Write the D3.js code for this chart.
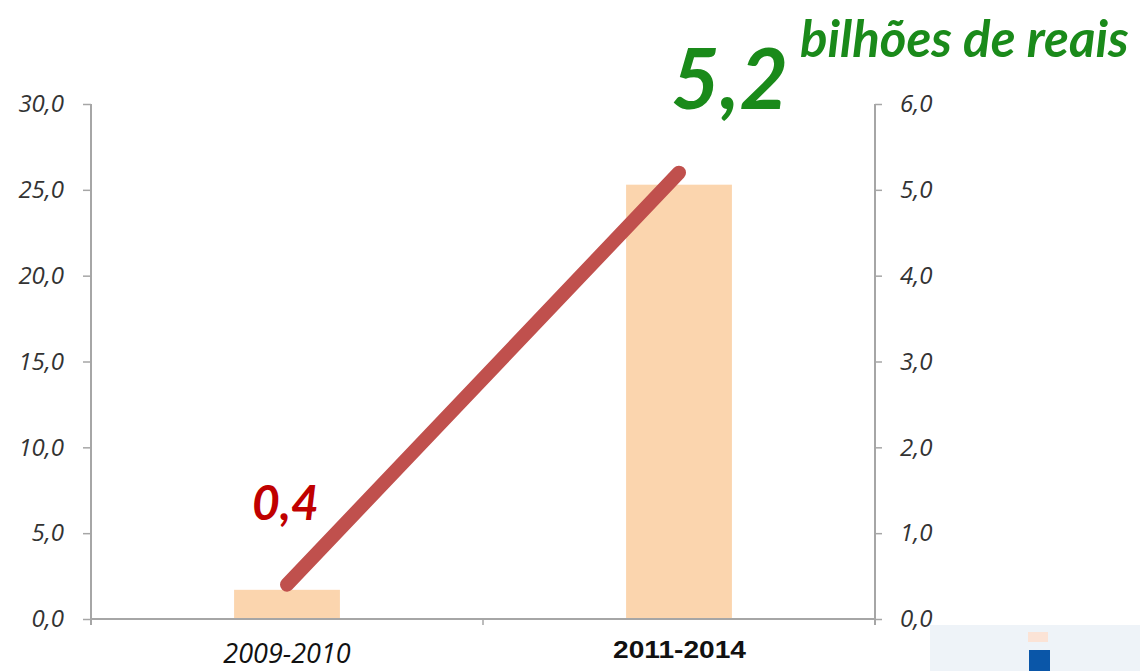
<!DOCTYPE html>
<html>
<head>
<meta charset="utf-8">
<script src="https://cdn.jsdelivr.net/npm/d3@7"></script>
<style>
  body { margin: 0; background: #fff; }
  svg { display: block; }
  .tick text { font-family: "Open Sans", sans-serif; font-style: italic; font-size: 24px; fill: #333; }
</style>
</head>
<body>
<div id="chart"></div>
<script>
// Data
const periods = ['2009-2010', '2011-2014'];
const barValues = [1.7, 25.3];       // left axis
const lineValues = [0.4, 5.2];       // right axis, bilhões de reais
const leftTicks = [0, 5, 10, 15, 20, 25, 30];
const rightTicks = [0, 1, 2, 3, 4, 5, 6];

const width = 1140, height = 671;
const margin = { top: 104, right: 265, bottom: 52, left: 91 };
const innerW = width - margin.left - margin.right;
const innerH = height - margin.top - margin.bottom;

const svg = d3.select('#chart').append('svg')
  .attr('width', width)
  .attr('height', height);

const chart = svg.append('g')
  .attr('transform', `translate(${margin.left},${margin.top})`);

const x = d3.scaleBand().domain(periods).range([0, innerW]).paddingInner(0.73).paddingOuter(0.365);
const yLeft = d3.scaleLinear().domain([0, 30]).range([innerH, 0]);
const yRight = d3.scaleLinear().domain([0, 6]).range([innerH, 0]);
const fmt = d => d.toFixed(1).replace('.', ',');

// bars
chart.selectAll('.bar')
  .data(periods)
  .join('rect')
  .attr('class', 'bar')
  .attr('x', d => x(d))
  .attr('width', x.bandwidth())
  .attr('y', (d, i) => yLeft(barValues[i]))
  .attr('height', (d, i) => innerH - yLeft(barValues[i]))
  .attr('fill', '#fbd5ae');

// left axis
const axL = chart.append('g')
  .call(d3.axisLeft(yLeft).tickValues(leftTicks).tickFormat(fmt).tickSize(8).tickPadding(19));
// right axis
const axR = chart.append('g')
  .attr('transform', `translate(${innerW},0)`)
  .call(d3.axisRight(yRight).tickValues(rightTicks).tickFormat(fmt).tickSize(7).tickPadding(18));
[axL, axR].forEach(a => {
  a.select('.domain').attr('stroke', '#a6a6a6').attr('stroke-width', 2)
    .attr('d', `M0,0V${innerH + 6}`);
  a.selectAll('.tick line').attr('stroke', '#a6a6a6').attr('stroke-width', 1.5);
});

// bottom axis line + middle tick
chart.append('line')
  .attr('x1', 0).attr('x2', innerW)
  .attr('y1', innerH).attr('y2', innerH)
  .attr('stroke', '#a6a6a6').attr('stroke-width', 2);
chart.append('line')
  .attr('x1', innerW / 2).attr('x2', innerW / 2)
  .attr('y1', innerH).attr('y2', innerH + 6)
  .attr('stroke', '#a6a6a6').attr('stroke-width', 1.5);

// category labels
chart.append('text')
  .attr('x', x(periods[0]) + x.bandwidth() / 2)
  .attr('y', innerH + 44)
  .attr('text-anchor', 'middle')
  .style('font-family', '"Open Sans", sans-serif')
  .style('font-size', '27px')
  .style('font-style', 'italic')
  .attr('fill', '#111')
  .text(periods[0]);

chart.append('text')
  .attr('x', x(periods[1]) + x.bandwidth() / 2 - 66)
  .attr('y', innerH + 39)
  .attr('textLength', 133)
  .attr('lengthAdjust', 'spacingAndGlyphs')
  .style('font-family', '"Liberation Sans", Arial, sans-serif')
  .style('font-size', '23px')
  .style('font-weight', 'bold')
  .attr('fill', '#111')
  .text(periods[1]);

// line
const line = d3.line()
  .x((d, i) => x(periods[i]) + x.bandwidth() / 2)
  .y(d => yRight(d));
chart.append('path')
  .datum(lineValues)
  .attr('d', line)
  .attr('fill', 'none')
  .attr('stroke', '#c0504d')
  .attr('stroke-width', 14)
  .attr('stroke-linecap', 'round');

// value labels
chart.append('text')
  .attr('x', x(periods[0]) + x.bandwidth() / 2 - 35)
  .attr('y', yRight(lineValues[0]) - 65)
  .style('font-family', 'Lato, sans-serif')
  .style('font-style', 'italic')
  .style('font-weight', 'bold')
  .style('font-size', '48px')
  .attr('fill', '#c00000')
  .text(fmt(lineValues[0]));

chart.append('text')
  .attr('x', x(periods[1]) + x.bandwidth() / 2 - 8)
  .attr('y', yRight(lineValues[1]) - 64)
  .style('font-family', 'Lato, sans-serif')
  .style('font-style', 'italic')
  .style('font-weight', 'bold')
  .style('font-size', '84px')
  .attr('fill', '#1a8a1a')
  .text(fmt(lineValues[1]));

svg.append('text')
  .attr('x', 800)
  .attr('y', 57)
  .style('font-family', 'Lato, sans-serif')
  .style('font-style', 'italic')
  .style('font-weight', 'bold')
  .style('font-size', '51px')
  .attr('fill', '#1a8a1a')
  .text('bilhões de reais');

// faint logo fragment bottom right
svg.append('rect').attr('x', 930).attr('y', 625).attr('width', 210).attr('height', 46).attr('fill', '#eef3f8');
svg.append('rect').attr('x', 1028).attr('y', 632).attr('width', 20).attr('height', 10).attr('fill', '#fbe3d6');
svg.append('rect').attr('x', 1029).attr('y', 650).attr('width', 21).attr('height', 21).attr('fill', '#0a56a8');
</script>
</body>
</html>
